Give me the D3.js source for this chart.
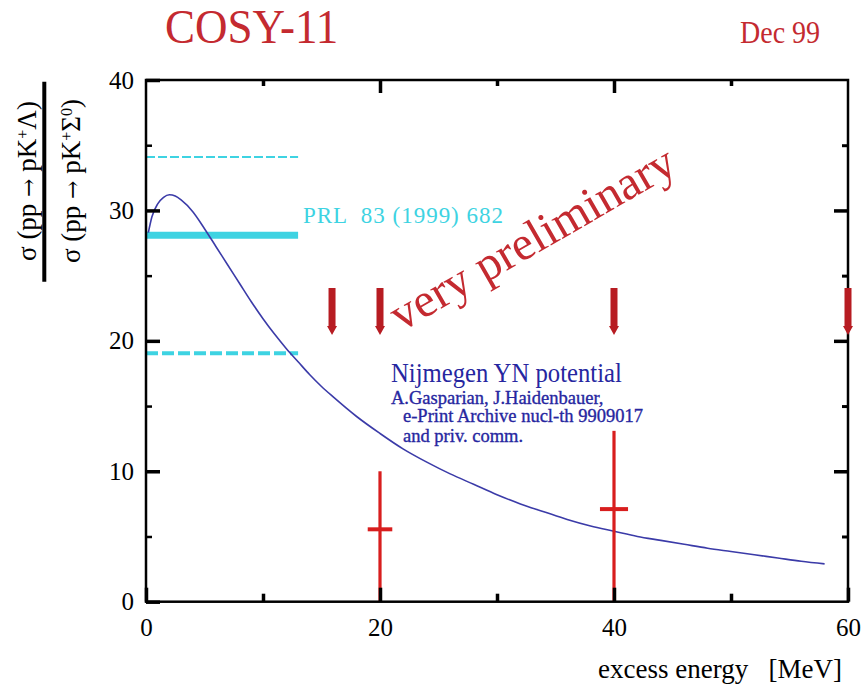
<!DOCTYPE html>
<html>
<head>
<meta charset="utf-8">
<script src="https://cdn.jsdelivr.net/npm/d3@7"></script>
<style>
  body { margin: 0; background: #fff; }
  svg text { font-family: "Liberation Serif", "Times New Roman", Times, serif; }
</style>
</head>
<body>
<svg id="chart" width="861" height="692"></svg>
<script>
// Nijmegen YN potential prediction: cross-section ratio vs excess energy [MeV]
const theoryQ = [0.2, 0.5, 1, 1.5, 2, 2.5, 3, 4, 5, 6, 7, 8, 9, 10, 11, 12, 13, 14, 15, 16,
                 18, 20, 22, 24, 26, 28, 30, 32, 34, 36, 38, 40, 42, 44, 46, 48, 50, 52, 54, 56, 58];
const theoryRatio = [28.3, 29.5, 30.5, 31.0, 31.2, 31.1, 30.8, 29.9, 28.6, 27.2, 25.8, 24.4, 23.0, 21.7,
                     20.5, 19.4, 18.4, 17.4, 16.5, 15.7, 14.2, 12.9, 11.7, 10.7, 9.8, 9.0, 8.2, 7.5,
                     6.9, 6.3, 5.8, 5.4, 5.0, 4.7, 4.4, 4.1, 3.85, 3.6, 3.35, 3.1, 2.9];

// COSY-11 measured ratios with error ranges
const dataQ = [20, 40];
const dataRatio = [5.55, 7.1];
const dataLow = [0, 0];
const dataHigh = [10, 13.1];
const dataQErr = [1.05, 1.2];

// Earlier result (PRL 83 (1999) 682): central value and its upper/lower limits
const prlQRange = [0, 13];
const prlCentral = 28.1;
const prlUpper = 34.1;
const prlLower = 19.05;

// Excess energies marked by arrows
const arrowQ = [15.9, 20, 40, 60];
const arrowTop = 24.05;
const arrowTip = 20.45;

// Axis ticks
const xMajorTicks = [0, 20, 40, 60];
const xMinorTicks = [10, 30, 50];
const yMajorTicks = [0, 10, 20, 30, 40];
const yMinorTicks = [5, 15, 25, 35];

const svg = d3.select("#chart");

const x = d3.scaleLinear().domain([0, 60]).range([146, 848]);
const y = d3.scaleLinear().domain([0, 40]).range([601.7, 80]);

const RED = "#c42a30";
const CYAN = "#3ed3e2";
const BLUE = "#2626a0";

// --- PRL band lines ---
const hLine = v => d3.line()(prlQRange.map(q => [x(q), y(v)]));
svg.append("path").attr("d", hLine(prlUpper))
  .attr("stroke", CYAN).attr("stroke-width", 2).attr("stroke-dasharray", "9,3").attr("fill", "none");
svg.append("path").attr("d", hLine(prlCentral))
  .attr("stroke", CYAN).attr("stroke-width", 7).attr("fill", "none");
svg.append("path").attr("d", hLine(prlLower))
  .attr("stroke", CYAN).attr("stroke-width", 4).attr("stroke-dasharray", "12,4").attr("fill", "none");

// --- theory curve ---
const curve = d3.line()
  .x(d => x(d[0])).y(d => y(d[1]))
  .curve(d3.curveMonotoneX);
svg.append("path")
  .attr("d", curve(theoryQ.map((q, i) => [q, theoryRatio[i]])))
  .attr("fill", "none").attr("stroke", "#3b3ba8").attr("stroke-width", 1.6);

// --- data points with error bars ---
const pts = svg.append("g").selectAll("g").data(dataQ.map((q, i) => ({
  q, r: dataRatio[i], lo: dataLow[i], hi: dataHigh[i], dq: dataQErr[i]
}))).join("g");
pts.append("line")
  .attr("x1", d => x(d.q)).attr("x2", d => x(d.q))
  .attr("y1", d => y(d.lo)).attr("y2", d => y(d.hi))
  .attr("stroke", "#d81e1e").attr("stroke-width", 3.2);
pts.append("line")
  .attr("x1", d => x(d.q - d.dq)).attr("x2", d => x(d.q + d.dq))
  .attr("y1", d => y(d.r)).attr("y2", d => y(d.r))
  .attr("stroke", "#d81e1e").attr("stroke-width", 4);

// --- frame and axes (ticks pointing inward) ---
svg.append("rect")
  .attr("x", x(0)).attr("y", y(40))
  .attr("width", x(60) - x(0)).attr("height", y(0) - y(40))
  .attr("fill", "none").attr("stroke", "#000").attr("stroke-width", 2.5);

function styleAxis(g, w, fs) {
  g.select(".domain").remove();
  g.selectAll(".tick line").attr("stroke", "#000").attr("stroke-width", w);
  g.selectAll(".tick text").attr("fill", "#000").attr("font-size", fs)
    .attr("font-family", "'Liberation Serif', 'Times New Roman', serif");
}

const fmt = d3.format("d");
svg.append("g").attr("transform", `translate(0,${y(0)})`)
  .call(d3.axisBottom(x).tickValues(xMajorTicks).tickSize(-14).tickSizeOuter(0).tickPadding(17).tickFormat(fmt))
  .call(g => styleAxis(g, 3.5, 25));
svg.append("g").attr("transform", `translate(0,${y(0)})`)
  .call(d3.axisBottom(x).tickValues(xMinorTicks).tickSize(-8).tickSizeOuter(0).tickFormat(""))
  .call(g => styleAxis(g, 3.5, 25));
svg.append("g").attr("transform", `translate(0,${y(40)})`)
  .call(d3.axisTop(x).tickValues(xMajorTicks.slice(1, -1)).tickSize(-13).tickSizeOuter(0).tickFormat(""))
  .call(g => styleAxis(g, 3.5, 25));
svg.append("g").attr("transform", `translate(0,${y(40)})`)
  .call(d3.axisTop(x).tickValues(xMinorTicks).tickSize(-6).tickSizeOuter(0).tickFormat(""))
  .call(g => styleAxis(g, 3.5, 25));

svg.append("g").attr("transform", `translate(${x(0)},0)`)
  .call(d3.axisLeft(y).tickValues(yMajorTicks).tickSize(-14).tickSizeOuter(0).tickPadding(12).tickFormat(fmt))
  .call(g => styleAxis(g, 3.5, 25));
svg.append("g").attr("transform", `translate(${x(0)},0)`)
  .call(d3.axisLeft(y).tickValues(yMinorTicks).tickSize(-6).tickSizeOuter(0).tickFormat(""))
  .call(g => styleAxis(g, 2.5, 25));
svg.append("g").attr("transform", `translate(${x(60)},0)`)
  .call(d3.axisRight(y).tickValues(yMajorTicks.slice(1, -1)).tickSize(-14).tickSizeOuter(0).tickFormat(""))
  .call(g => styleAxis(g, 3.5, 25));
svg.append("g").attr("transform", `translate(${x(60)},0)`)
  .call(d3.axisRight(y).tickValues(yMinorTicks).tickSize(-6).tickSizeOuter(0).tickFormat(""))
  .call(g => styleAxis(g, 3, 25));

// --- arrows ---
const shaftHalf = 3.5, headHalf = 5, headLen = 9;
svg.append("g").selectAll("path").data(arrowQ).join("path")
  .attr("d", q => {
    const cx = x(q), yt = y(arrowTop), yp = y(arrowTip), yh = yp - headLen;
    return `M${cx - shaftHalf},${yt}L${cx + shaftHalf},${yt}L${cx + shaftHalf},${yh}` +
           `L${cx + headHalf},${yh}L${cx},${yp}L${cx - headHalf},${yh}L${cx - shaftHalf},${yh}Z`;
  })
  .attr("fill", "#b71c22");

// --- text ---
function txt(tx, ty, str, size, color, extra) {
  const t = svg.append("text")
    .attr("transform", `translate(${tx},${ty})` + (extra || ""))
    .attr("font-size", size).attr("fill", color)
    .style("white-space", "pre")
    .text(str);
  return t;
}

txt(165, 43, "COSY-11", 45, RED, " scale(1,1.1)");
txt(740, 43, "Dec 99", 28, RED, " scale(1,1.1)");

txt(303, 223, "PRL  83 (1999) 682", 23, CYAN)
  .attr("textLength", 200).attr("lengthAdjust", "spacing");

txt(401, 332, "very preliminary", 48, RED, " rotate(-30)");

txt(391, 382, "Nijmegen YN potential", 24.7, BLUE, " scale(1,1.1)");
const refLines = [
  [391, 404, "A.Gasparian, J.Haidenbauer,"],
  [403, 422, "e-Print Archive nucl-th 9909017"],
  [403, 442, "and priv. comm."]
];
refLines.forEach(([lx, ly, s]) =>
  txt(lx, ly, s, 18.5, BLUE).attr("stroke", BLUE).attr("stroke-width", 0.35));

txt(842, 678, "excess energy   [MeV]", 27, "#000").attr("text-anchor", "end");

// y-axis title as a fraction of two cross sections
const yl = svg.append("g");
function fracPart(bx, parts) {
  const t = yl.append("text")
    .attr("transform", `translate(${bx},181) rotate(-90)`)
    .attr("text-anchor", "middle").attr("font-size", 27).attr("fill", "#000");
  parts.forEach(p => {
    const s = t.append("tspan").text(p.t);
    if (p.sup) s.attr("baseline-shift", "super").attr("font-size", 16);
    if (p.arrow) s.attr("font-family", "'DejaVu Serif', serif").attr("font-size", 22);
  });
}
fracPart(36, [{ t: "σ (pp " }, { t: "→", arrow: true }, { t: " pK" }, { t: "+", sup: true }, { t: "Λ)" }]);
fracPart(79.5, [{ t: "σ (pp " }, { t: "→", arrow: true }, { t: " pK" }, { t: "+", sup: true }, { t: "Σ" }, { t: "0", sup: true }, { t: ")" }]);
yl.append("line").attr("x1", 44.3).attr("x2", 44.3).attr("y1", 81.7).attr("y2", 281.7)
  .attr("stroke", "#000").attr("stroke-width", 4);
</script>
</body>
</html>
